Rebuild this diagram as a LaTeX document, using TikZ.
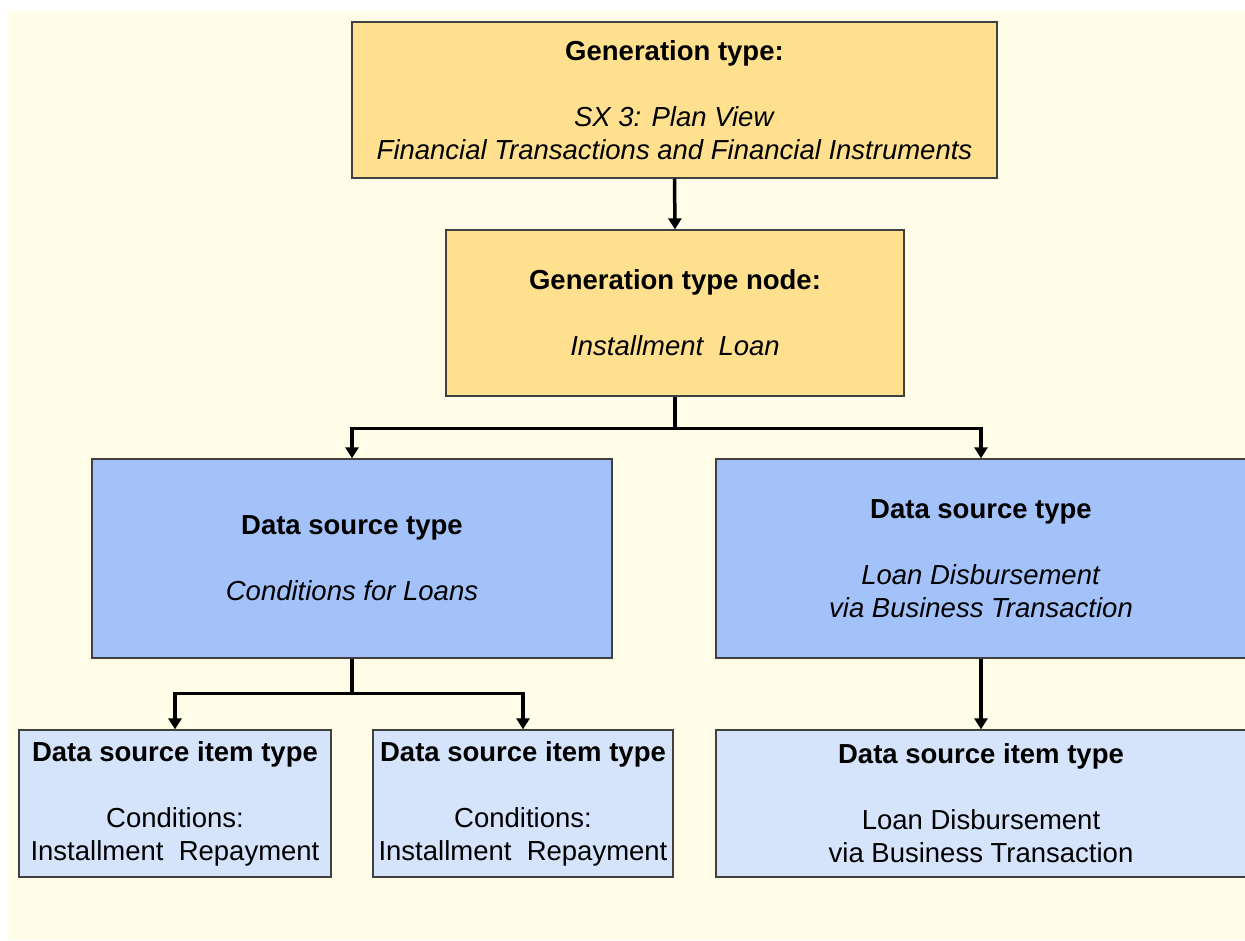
\documentclass[tikz,border=0pt]{standalone}
\usepackage{fontspec}
\setmainfont{Liberation Sans}
\usetikzlibrary{arrows.meta}
\definecolor{bgyellow}{RGB}{255,253,232}
\definecolor{genfill}{RGB}{255,224,143}
\definecolor{srcfill}{RGB}{163,194,250}
\definecolor{itemfill}{RGB}{213,228,251}
\definecolor{boxline}{RGB}{64,64,64}

\begin{document}
\begin{tikzpicture}[x=1pt,y=-1pt,
    box/.style={draw=boxline,line width=1.3pt,align=center,inner sep=0pt,
      font=\fontsize{27.5}{33}\selectfont},
    gen/.style={box,fill=genfill},
    src/.style={box,fill=srcfill},
    item/.style={box,fill=itemfill},
    link/.style={line width=3.5pt,line join=miter,-{Triangle[width=13pt,length=11pt]}}]
      \clip (0,0) rectangle (1245,940);
      \useasboundingbox (0,0) rectangle (1245,940);
      \fill[bgyellow] (8,11) rectangle (1245,940);
      % generation type and its node
      \node[gen,minimum width=645,minimum height=156] (gentype) at (674.5,100)
        {\textbf{Generation type:}\\[33pt]\textit{SX 3: Plan View}\\\textit{Financial Transactions and Financial Instruments}};
      \node[gen,minimum width=458,minimum height=166] (gennode) at (675,313)
        {\textbf{Generation type node:}\\[33pt]\textit{Installment\ \ Loan}};
      % data source types
      \node[src,minimum width=520,minimum height=199] (dsleft) at (352,558.5)
        {\textbf{Data source type}\\[33pt]\textit{Conditions for Loans}};
      \node[src,minimum width=530,minimum height=199] (dsright) at (981,558.5)
        {\textbf{Data source type}\\[33pt]\textit{Loan Disbursement}\\\textit{via Business Transaction}};
      % data source item types
      \node[item,minimum width=312,minimum height=147] (itemA) at (175,803.5)
        {\textbf{Data source item type}\\[33pt]Conditions:\\Installment\ \ Repayment};
      \node[item,minimum width=300,minimum height=147] (itemB) at (523,803.5)
        {\textbf{Data source item type}\\[33pt]Conditions:\\Installment\ \ Repayment};
      \node[item,minimum width=530,minimum height=147] (itemC) at (981,803.5)
        {\textbf{Data source item type}\\[33pt]Loan Disbursement\\via Business Transaction};
      \draw[link] (gentype.south) -- (gennode.north);
      \draw[link] (gennode.south) -- ++(0,32) -| (dsleft.north);
      \draw[link] (gennode.south) -- ++(0,32) -| (dsright.north);
      \draw[link] (dsleft.south) -- ++(0,35) -| (itemA.north);
      \draw[link] (dsleft.south) -- ++(0,35) -| (itemB.north);
      \draw[link] (dsright.south) -- (itemC.north);
    \end{tikzpicture}
\end{document}
